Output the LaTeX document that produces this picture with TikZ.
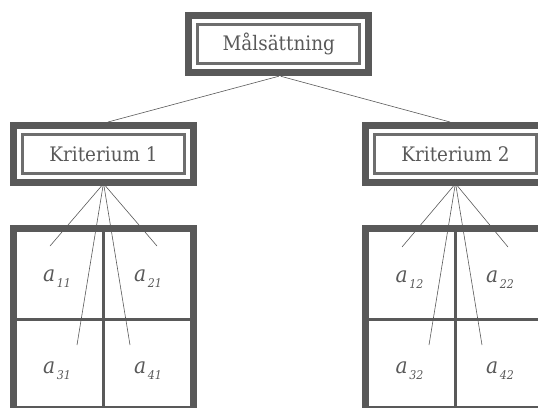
\documentclass[tikz,border=0pt]{standalone}
\usepackage{fontspec}
\setmainfont{DejaVu Serif}[FakeStretch=0.92]
\usetikzlibrary{fit}

\definecolor{frame}{HTML}{595959}
\definecolor{rule}{HTML}{6E6E6E}
\definecolor{ink}{HTML}{595959}

% matrix entry a_{ij} with a small, lowered italic index
\newcommand\cellentry[1]{{\itshape a}\kern1.5pt\raisebox{-6pt}{\fontsize{12}{12}\selectfont\itshape #1}}

\tikzset{
  titlebox/.style={draw=rule, line width=3pt, outer sep=0pt, inner sep=0pt,
    minimum width=162pt, minimum height=39pt, text=ink,
    font=\fontsize{20}{22}\selectfont},
  outerframe/.style={draw=frame, line width=7pt, inner sep=9pt, outer sep=3.5pt},
  link/.style={draw=ink, line width=0.6pt},
  gridframe/.style={draw=frame, line width=7pt},
  griddiv/.style={draw=frame, line width=3pt},
  entry/.style={text=ink, inner sep=0pt, font=\fontsize{22}{24}\selectfont},
}

\begin{document}
\begin{tikzpicture}[x=1pt,y=-1pt]
\useasboundingbox (0,0) rectangle (538,407);

% goal and criteria
\node[titlebox] (goal) at (278.75,44.25) {Målsättning};
\node[outerframe, fit=(goal)] (goalF) {};
\node[titlebox] (crit1) at (103.5,154) {Kriterium 1};
\node[outerframe, fit=(crit1)] (crit1F) {};
\node[titlebox] (crit2) at (455.5,154) {Kriterium 2};
\node[outerframe, fit=(crit2)] (crit2F) {};

\draw[link] (goalF.south) -- ([xshift=4.5pt]crit1F.north);
\draw[link] ([xshift=2pt]goalF.south) -- ([xshift=-5.5pt]crit2F.north);

% comparison grid under criterion 1
\draw[griddiv] (103,232) -- (103,412);
\draw[griddiv] (17,319) -- (190,319);
\draw[gridframe] (13.5,228.5) rectangle (193.5,409.5);
\node[entry] (a11) at (57,279) {\cellentry{11}};
\node[entry] (a21) at (148,279) {\cellentry{21}};
\node[entry] (a31) at (57,370.5) {\cellentry{31}};
\node[entry] (a41) at (148,370.5) {\cellentry{41}};

% comparison grid under criterion 2
\draw[griddiv] (455,232) -- (455,412);
\draw[griddiv] (369,319) -- (542,319);
\draw[gridframe] (365.5,228.5) rectangle (545.5,409.5);
\node[entry] (a12) at (409.5,280) {\cellentry{12}};
\node[entry] (a22) at (500,280) {\cellentry{22}};
\node[entry] (a32) at (409.5,371) {\cellentry{32}};
\node[entry] (a42) at (500,371) {\cellentry{42}};

% fan of links from each criterion into its grid
\coordinate (e11) at (50,246);
\coordinate (e21) at (157,246);
\coordinate (e31) at (77,345);
\coordinate (e41) at (130,345);
\draw[link] ([xshift=-2pt]crit1F.south) -- (e11);
\draw[link] ([xshift=-0.5pt]crit1F.south) -- (e31);
\draw[link] ([xshift=0.5pt]crit1F.south) -- (e41);
\draw[link] ([xshift=2pt]crit1F.south) -- (e21);

\coordinate (e12) at (402,247);
\coordinate (e22) at (508,247);
\coordinate (e32) at (429,345);
\coordinate (e42) at (482,345);
\draw[link] ([xshift=-2pt]crit2F.south) -- (e12);
\draw[link] ([xshift=-0.5pt]crit2F.south) -- (e32);
\draw[link] ([xshift=0.5pt]crit2F.south) -- (e42);
\draw[link] ([xshift=2pt]crit2F.south) -- (e22);
\end{tikzpicture}
\end{document}
